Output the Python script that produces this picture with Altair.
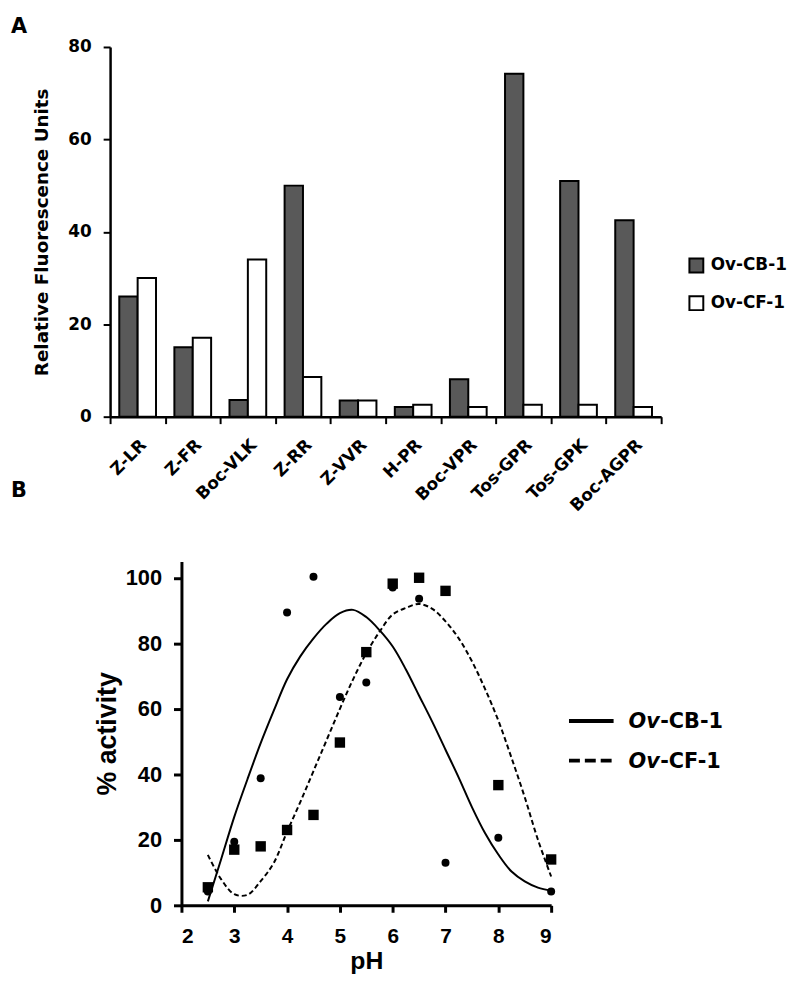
import altair as alt
import pandas as pd

FONT = "DejaVu Sans"
FONT_B = "Liberation Sans"

# ---------------- Panel A data ----------------
substrates = ["Z-LR", "Z-FR", "Boc-VLK", "Z-RR", "Z-VVR", "H-PR",
              "Boc-VPR", "Tos-GPR", "Tos-GPK", "Boc-AGPR"]
enzymes = ["Ov-CB-1", "Ov-CF-1"]
rfu_cb1 = [26.0, 15.0, 3.6, 50.0, 3.5, 2.1, 8.1, 74.2, 51.0, 42.5]
rfu_cf1 = [30.0, 17.1, 34.0, 8.6, 3.5, 2.6, 2.1, 2.6, 2.6, 2.1]

# ---------------- Panel B data ----------------
ph_points = [2.5, 3, 3.5, 4, 4.5, 5, 5.5, 6, 6.5, 7, 8, 9]
act_cb1 = [4.2, 19.4, 38.8, 89.4, 100.3, 63.6, 68.0, 97.0, 93.6, 13.0, 20.6, 4.2]
act_cf1 = [5.5, 17.0, 18.0, 23.0, 27.6, 49.7, 77.3, 98.2, 100.0, 96.0, 36.7, 14.0]

fit_ph = [2.5, 2.75, 3, 3.25, 3.5, 3.75, 4, 4.25, 4.5, 4.75, 5, 5.25, 5.5, 5.75,
          6, 6.25, 6.5, 6.75, 7, 7.25, 7.5, 7.75, 8, 8.25, 8.5, 8.75, 9]
fit_cb1 = [1.2, 14, 27, 38.5, 49.5, 59.5, 69, 76, 81.5, 86, 89.2, 90.2, 88, 84,
           79, 72, 64, 56, 47.5, 39, 30, 22, 15.5, 10.3, 7.3, 5.4, 4.5]
fit_cf1 = [15.4, 8, 3.4, 3.2, 7.4, 13, 22.5, 31.5, 41, 50.5, 60, 69, 77, 83.5,
           88.8, 90.8, 92, 90.5, 86.7, 81.5, 74.5, 66, 56.4, 45, 33, 20, 8.8]

WA, HA = 556, 373
SHIFT_B = 72          # panel B's plot starts 72px right of panel A's
WB, HB = 373, 347

one = pd.DataFrame({"k": [0]})

# ---------------- Panel A ----------------
dfA = pd.DataFrame({
    "substrate": substrates * 2,
    "enzyme": [enzymes[0]] * len(substrates) + [enzymes[1]] * len(substrates),
    "rfu": rfu_cb1 + rfu_cf1,
})

bars = alt.Chart(dfA).mark_bar(stroke="black", strokeWidth=2).encode(
    x=alt.X("substrate:N", sort=substrates, title=None,
            scale=alt.Scale(paddingInner=0, paddingOuter=0),
            axis=alt.Axis(labelAngle=315, labelAlign="right", labelBaseline="top",
                          tickBand="extent", tickSize=7, tickWidth=2, tickColor="black",
                          domainColor="black", domainWidth=2.5,
                          labelFont=FONT, labelFontWeight="bold", labelFontSize=17,
                          labelColor="black", labelPadding=13)),
    xOffset=alt.XOffset("enzyme:N", sort=enzymes,
                        scale=alt.Scale(paddingOuter=0.5, paddingInner=0)),
    y=alt.Y("rfu:Q", scale=alt.Scale(domain=[0, 80], nice=False),
            axis=alt.Axis(values=[0, 20, 40, 60, 80], title="Relative Fluorescence Units",
                          grid=False, tickSize=7, tickWidth=2, tickColor="black",
                          domainColor="black", domainWidth=2.5,
                          labelFont=FONT, labelFontWeight="bold", labelFontSize=17,
                          labelColor="black", labelPadding=12,
                          titleFont=FONT, titleFontWeight="bold", titleFontSize=18.5,
                          titleColor="black", titlePadding=16)),
    color=alt.Color("enzyme:N", sort=enzymes,
                    scale=alt.Scale(domain=enzymes, range=["#595959", "#ffffff"]),
                    legend=alt.Legend(title=None, orient="none", legendX=583, legendY=212,
                                      symbolType="square", symbolSize=196,
                                      symbolStrokeColor="black", symbolStrokeWidth=2,
                                      symbolOpacity=1, padding=0,
                                      labelFont=FONT, labelFontSize=17,
                                      labelFontWeight="bold", labelColor="black",
                                      rowPadding=15, labelOffset=6)),
)

letterA = alt.Chart(one).mark_text(
    text="A", align="left", baseline="top", font=FONT, fontSize=21,
    fontWeight="bold", color="black"
).encode(x=alt.value(-100), y=alt.value(-31))

letterB = alt.Chart(one).mark_text(
    text="B", align="left", baseline="top", font=FONT, fontSize=21,
    fontWeight="bold", color="black"
).encode(x=alt.value(-100), y=alt.value(437))

panelA = alt.layer(bars, letterA, letterB).properties(width=WA, height=HA)

# ---------------- Panel B ----------------
dfP = pd.DataFrame({
    "ph": ph_points * 2,
    "act": act_cb1 + act_cf1,
    "enzyme": [enzymes[0]] * len(ph_points) + [enzymes[1]] * len(ph_points),
})
dfF = pd.DataFrame({
    "ph": fit_ph * 2,
    "act": fit_cb1 + fit_cf1,
    "enzyme": [enzymes[0]] * len(fit_ph) + [enzymes[1]] * len(fit_ph),
})

xB = alt.X("ph:Q", scale=alt.Scale(domain=[2, 9], nice=False, range=[SHIFT_B, SHIFT_B + WB]),
           axis=alt.Axis(values=[2, 3, 4, 5, 6, 7, 8, 9], title="pH", grid=False,
                         tickSize=7, tickWidth=3, tickColor="black",
                         domainColor="black", domainWidth=3,
                         labelFont=FONT_B, labelFontWeight="bold", labelFontSize=21,
                         labelColor="black", labelPadding=14,
                         titleFont=FONT_B, titleFontWeight="bold", titleFontSize=25,
                         titleColor="black", titlePadding=2))
yB = alt.Y("act:Q", scale=alt.Scale(domain=[0, 105], nice=False),
           axis=alt.Axis(values=[0, 20, 40, 60, 80, 100], title="% activity", grid=False,
                         offset=-SHIFT_B,
                         tickSize=8, tickWidth=3, tickColor="black",
                         domainColor="black", domainWidth=3,
                         labelFont=FONT_B, labelFontWeight="bold", labelFontSize=22,
                         labelColor="black", labelPadding=12,
                         titleFont=FONT_B, titleFontWeight="bold", titleFontSize=27,
                         titleColor="black", titlePadding=4))

line_cb = alt.Chart(dfF).transform_filter(
    alt.datum.enzyme == enzymes[0]
).mark_line(color="black", strokeWidth=2, interpolate="catmull-rom").encode(x=xB, y=yB)

line_cf = alt.Chart(dfF).transform_filter(
    alt.datum.enzyme == enzymes[1]
).mark_line(color="black", strokeWidth=2, strokeDash=[5, 3],
            interpolate="catmull-rom").encode(x=xB, y=yB)

circles = alt.Chart(dfP).transform_filter(
    alt.datum.enzyme == enzymes[0]
).mark_circle(size=65, color="black", opacity=1).encode(x=xB, y=yB)

squares = alt.Chart(dfP).transform_filter(
    alt.datum.enzyme == enzymes[1]
).mark_square(size=110, color="black", opacity=1).encode(x=xB, y=yB)

LX0, LX1 = 463, 508
leg_solid = alt.Chart(one).mark_rule(color="black", strokeWidth=4).encode(
    x=alt.value(LX0), x2=alt.value(LX1), y=alt.value(161))
leg_dash = alt.Chart(one).mark_rule(color="black", strokeWidth=4, strokeDash=[11, 5]).encode(
    x=alt.value(LX0), x2=alt.value(LX1), y=alt.value(201))


def leg_text(txt, x, y, italic):
    return alt.Chart(one).mark_text(
        text=txt, align="left", baseline="middle", font=FONT, fontSize=21,
        fontWeight="bold", fontStyle="italic" if italic else "normal", color="black"
    ).encode(x=alt.value(x), y=alt.value(y))


leg_texts = [
    leg_text("Ov", 523, 162, True), leg_text("-CB-1", 555, 162, False),
    leg_text("Ov", 523, 202, True), leg_text("-CF-1", 555, 202, False),
]

panelB = alt.layer(line_cb, line_cf, circles, squares, leg_solid, leg_dash,
                   *leg_texts).properties(width=SHIFT_B + WB, height=HB)

chart = alt.vconcat(panelA, panelB, spacing=47).properties(
    padding={"left": 3, "top": 4, "right": 5, "bottom": 0}
).configure_view(stroke=None)

chart.save("out.html", embed_options={"renderer": "svg", "actions": False})
